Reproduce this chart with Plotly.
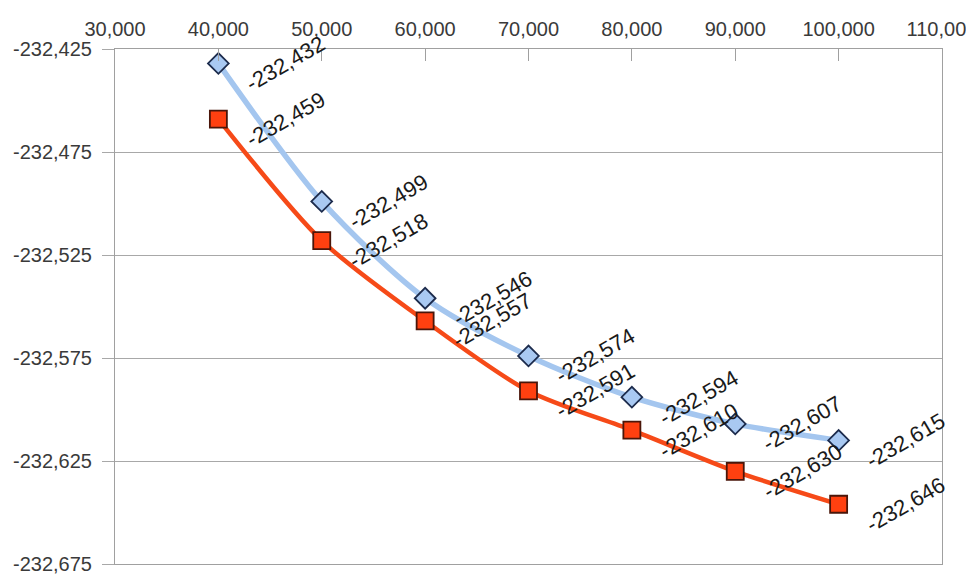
import plotly.graph_objects as go

# Sample sizes (x) and the two energy series (y)
x_vals = [40000, 50000, 60000, 70000, 80000, 90000, 100000]
series_a = [-232.432, -232.499, -232.546, -232.574, -232.594, -232.607, -232.615]
series_b = [-232.459, -232.518, -232.557, -232.591, -232.610, -232.630, -232.646]

x_ticks = [30000, 40000, 50000, 60000, 70000, 80000, 90000, 100000, 110000]
x_tick_text = ["30,000", "40,000", "50,000", "60,000", "70,000", "80,000",
               "90,000", "100,000", "110,000"]
y_ticks = [-232.425, -232.475, -232.525, -232.575, -232.625, -232.675]
y_tick_text = ["-232,425", "-232,475", "-232,525", "-232,575", "-232,625", "-232,675"]

FONT = "Liberation Sans, Arial, sans-serif"


def comma_label(v):
    return f"{v:.3f}".replace(".", ",")


fig = go.Figure()

fig.add_trace(go.Scatter(
    x=x_vals, y=series_a, mode="lines+markers",
    line=dict(color="#a4c6ef", width=5.5, shape="spline", smoothing=0.8),
    marker=dict(symbol="diamond", size=16, color="#a9c9f2",
                line=dict(color="#1c2b4c", width=1.8)),
    showlegend=False,
))
fig.add_trace(go.Scatter(
    x=x_vals, y=series_b, mode="lines+markers",
    line=dict(color="#f64a18", width=4.5, shape="spline", smoothing=0.8),
    marker=dict(symbol="square", size=17, color="#ff4010",
                line=dict(color="#4a160a", width=1.8)),
    showlegend=False,
))

# Rotated value labels beside each point
for xs, ys in ((x_vals, series_a), (x_vals, series_b)):
    for xv, yv in zip(xs, ys):
        fig.add_annotation(
            x=xv, y=yv, text=comma_label(yv), showarrow=False,
            textangle=-30, xanchor="center", yanchor="middle",
            xshift=67, yshift=0,
            font=dict(family=FONT, size=22, color="#1a1a1a"),
        )

fig.update_layout(
    width=966, height=574,
    margin=dict(l=115, r=24, t=49, b=10),
    paper_bgcolor="white", plot_bgcolor="white",
    font=dict(family=FONT, size=20, color="#333333"),
)

fig.update_xaxes(
    side="top", range=[30000, 110000], automargin=False,
    tickmode="array", tickvals=x_ticks, ticktext=x_tick_text,
    ticks="inside", ticklen=12, tickcolor="#a0a0a0", tickwidth=1,
    ticklabeloverflow="allow", ticklabelstandoff=4,
    showgrid=False, zeroline=False,
    showline=True, linecolor="#a0a0a0", linewidth=1, mirror=True,
    tickfont=dict(family=FONT, size=20, color="#3a3a3a"),
)
fig.update_yaxes(
    range=[-232.675, -232.425], automargin=False,
    tickmode="array", tickvals=y_ticks, ticktext=y_tick_text,
    ticks="outside", ticklen=12, tickcolor="#a8a8a8", tickwidth=1,
    ticklabeloverflow="allow", ticklabelstandoff=6,
    showgrid=True, gridcolor="#a8a8a8", gridwidth=1, zeroline=False,
    showline=True, linecolor="#a0a0a0", linewidth=1, mirror=True,
    tickfont=dict(family=FONT, size=20, color="#3a3a3a"),
)

fig.write_html("out.html")
